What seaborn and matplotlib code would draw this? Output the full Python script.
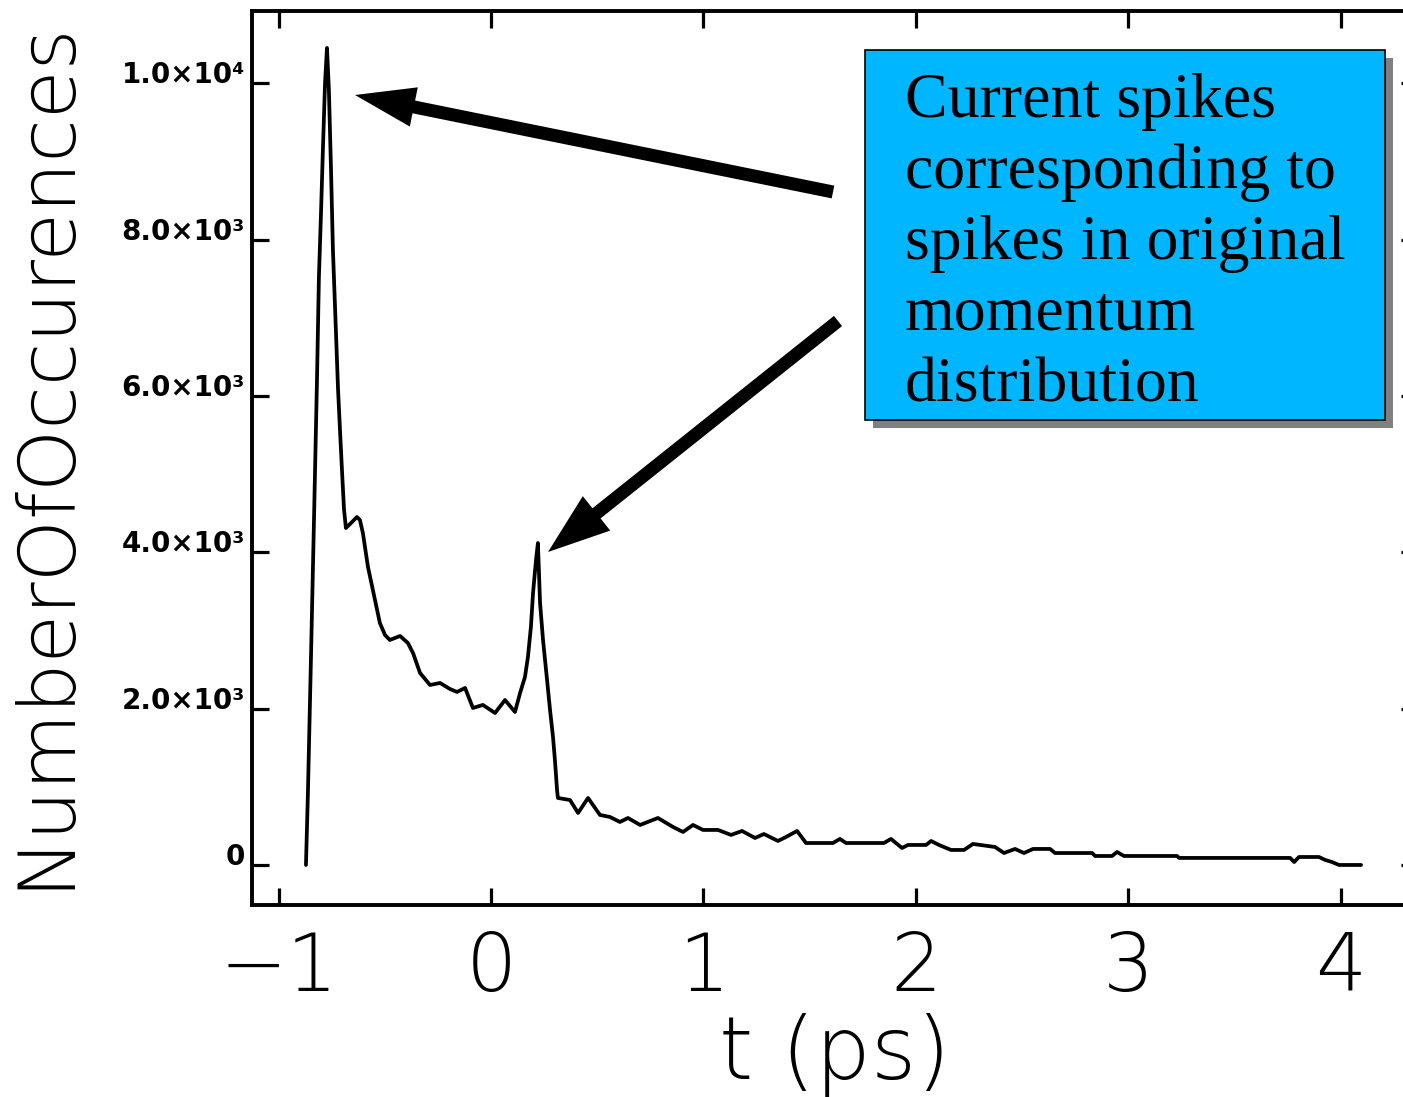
import numpy as np
import pandas as pd
import matplotlib
matplotlib.use("Agg")
import matplotlib.pyplot as plt
import seaborn as sns
from matplotlib.patches import FancyArrow, Rectangle
from matplotlib.transforms import IdentityTransform

# ---------------- data ----------------
t_ps = [-0.871, -0.862, -0.847, -0.833, -0.819, -0.810, -0.800, -0.791, -0.781, -0.772,
        -0.763, -0.753, -0.744, -0.730, -0.720, -0.711, -0.702, -0.692, -0.683, -0.654,
        -0.631, -0.617, -0.603, -0.579, -0.546, -0.523, -0.499, -0.476, -0.428, -0.391,
        -0.367, -0.334, -0.287, -0.240, -0.193, -0.160, -0.122, -0.085, -0.038, 0.019,
        0.066, 0.113, 0.137, 0.160, 0.174, 0.188, 0.198, 0.212, 0.221, 0.231,
        0.245, 0.264, 0.278, 0.292, 0.301, 0.311, 0.315, 0.372, 0.410, 0.457,
        0.513, 0.560, 0.607, 0.645, 0.702, 0.786, 0.857, 0.904, 0.951, 0.998,
        1.069, 1.130, 1.182, 1.243, 1.285, 1.351, 1.389, 1.441, 1.483, 1.610,
        1.643, 1.671, 1.850, 1.883, 1.935, 1.963, 2.048, 2.072, 2.109, 2.166,
        2.227, 2.269, 2.373, 2.415, 2.467, 2.509, 2.552, 2.632, 2.655, 2.830,
        2.844, 2.924, 2.947, 2.980, 3.230, 3.239, 3.762, 3.781, 3.804, 3.898,
        3.927, 3.959, 3.992, 4.096]
counts = [0, 895, 2699, 4438, 6216, 7521, 8352, 9170, 10015, 10450,
          9912, 8889, 7866, 6830, 6088, 5576, 5078, 4553, 4310, 4387,
          4451, 4413, 4246, 3811, 3389, 3095, 2942, 2878, 2929, 2839,
          2711, 2456, 2302, 2328, 2251, 2213, 2264, 2008, 2047, 1944,
          2110, 1957, 2200, 2405, 2660, 3044, 3479, 3901, 4118, 3351,
          2878, 2366, 1982, 1637, 1343, 959, 857, 831, 665, 857,
          640, 614, 550, 601, 512, 601, 486, 422, 512, 448,
          448, 384, 435, 345, 396, 307, 358, 435, 281, 281,
          333, 281, 281, 333, 217, 256, 256, 307, 256, 192,
          192, 269, 230, 153, 205, 153, 205, 205, 153, 153,
          115, 115, 166, 115, 115, 90, 90, 38, 102, 102,
          64, 38, 0, 0]

x_ticks = [-1, 0, 1, 2, 3, 4]
x_tick_labels = ["\u22121", "0", "1", "2", "3", "4"]
y_ticks = [0, 2000, 4000, 6000, 8000, 10000]
y_tick_labels = ["0", "2.0\u00d710\u00b3", "4.0\u00d710\u00b3", "6.0\u00d710\u00b3",
                 "8.0\u00d710\u00b3", "1.0\u00d710\u2074"]
x_label = "t (ps)"
y_label = "NumberOfOccurences"
note_lines = ["Current spikes", "corresponding to", "spikes in original",
              "momentum", "distribution"]

# ---------------- style ----------------
sns.set_style("ticks")
plt.rcParams["font.family"] = ["DejaVu Sans"]
plt.rcParams["text.color"] = "black"
plt.rcParams["axes.labelcolor"] = "black"
plt.rcParams["xtick.color"] = "black"
plt.rcParams["ytick.color"] = "black"

W, H = 1403, 1097
fig = plt.figure(figsize=(W / 100, H / 100), dpi=100)
fig.patch.set_facecolor("white")

ax_left, ax_right, ax_top, ax_bottom = 252, 1418, 11, 905
ax = fig.add_axes([ax_left / W, 1 - ax_bottom / H,
                   (ax_right - ax_left) / W, (ax_bottom - ax_top) / H])
ax.set_facecolor("white")

df = pd.DataFrame({"t": t_ps, "n": counts})
sns.lineplot(data=df, x="t", y="n", ax=ax, color="black", linewidth=2.7,
             estimator=None, sort=False)

ax.set_xlim(-1.125, 4.364)
ax.set_ylim(-512, 10923)

for s in ax.spines.values():
    s.set_visible(True)
    s.set_linewidth(2.8)
    s.set_color("black")

ax.set_xticks(x_ticks)
ax.set_xticklabels(x_tick_labels, fontsize=58, fontweight="ultralight", color="black")
ax.set_yticks(y_ticks)
ax.set_yticklabels(y_tick_labels, fontsize=20, fontweight="bold",
                   va="baseline", color="black")
ax.tick_params(axis="both", which="major", direction="in", length=12, width=2.3,
               top=True, right=True, color="black", labelcolor="black")
ax.tick_params(axis="x", pad=18)
ax.tick_params(axis="y", pad=5)

ax.set_xlabel(x_label, fontsize=63, fontweight="ultralight", color="black")
ax.xaxis.set_label_coords(0.5, -0.168)
ax.xaxis.label.set_va("center")
ax.set_ylabel(y_label, fontsize=57, fontweight="ultralight", color="black")
ax.yaxis.set_label_coords(-0.178, 0.505)
ax.yaxis.label.set_va("center")

# ---------------- annotation box ----------------
def px(x, y):
    return x, H - y

ident = IdentityTransform()
shadow = Rectangle(px(873, 428), 520, 370, facecolor="#808080", edgecolor="none",
                   transform=ident, zorder=5)
box = Rectangle(px(865, 420), 520, 370, facecolor="#00B6FF", edgecolor="black",
                linewidth=1.2, transform=ident, zorder=6)
fig.add_artist(shadow)
fig.add_artist(box)

baselines = [117, 188, 259, 330, 401]
for line, yb in zip(note_lines, baselines):
    fig.text(905, H - yb, line, transform=ident, fontsize=46,
             family=["Liberation Serif", "DejaVu Serif"], color="black",
             va="baseline", ha="left", zorder=7)

# ---------------- arrows ----------------
def arrow(tail, tip, hw, hl, w):
    x0, y0 = px(*tail)
    x1, y1 = px(*tip)
    a = FancyArrow(x0, y0, x1 - x0, y1 - y0, width=w, head_width=hw, head_length=hl,
                   length_includes_head=True, facecolor="black", edgecolor="black",
                   linewidth=0, transform=ident, zorder=8)
    fig.add_artist(a)

arrow((833, 192), (355, 95), 40, 60, 13)
arrow((838, 321), (548, 552), 44, 62, 13)

fig.savefig("out.png", dpi=100, facecolor="white")
